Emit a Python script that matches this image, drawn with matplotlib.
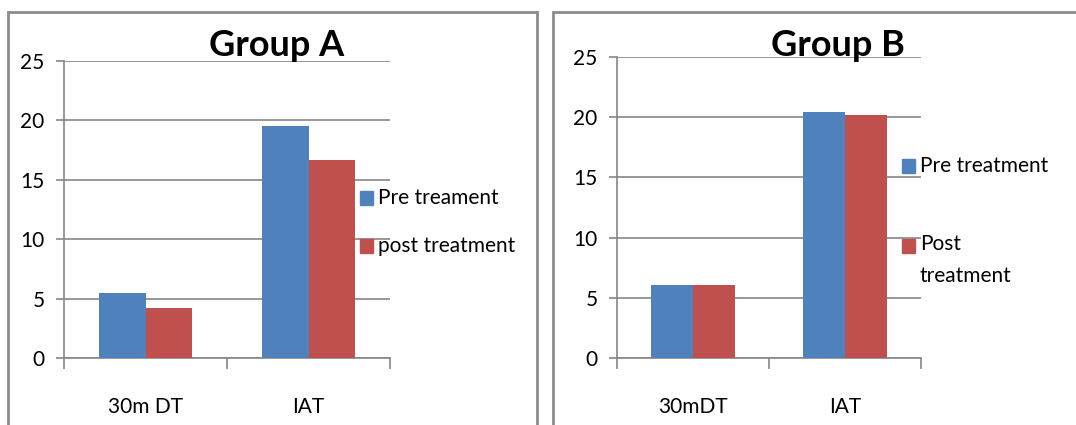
import matplotlib
matplotlib.use("Agg")
import matplotlib.pyplot as plt
from matplotlib.patches import Rectangle
import numpy as np

plt.rcParams['font.family'] = ['Lato', 'DejaVu Sans']

# Data
cats_a = ["30m DT", "IAT"]
pre_a = [5.5, 19.5]
post_a = [4.2, 16.7]
legend_a = ["Pre treament", "post treatment"]

cats_b = ["30mDT", "IAT"]
pre_b = [6.1, 20.4]
post_b = [6.1, 20.2]
legend_b = ["Pre treatment", "Post\ntreatment"]

yticks = [0, 5, 10, 15, 20, 25]
blue = "#4F81BD"
red = "#C0504D"
grid_c = "#868686"

W, H = 1076, 425
fig = plt.figure(figsize=(W / 100, H / 100), dpi=100)

def fx(px):
    return px / W

def fy(py):
    return 1 - py / H

# panel frames
fig.patches.append(Rectangle((fx(8), fy(440)), fx(537 - 8), fy(12) - fy(440),
                             transform=fig.transFigure, fill=False,
                             edgecolor="#8c8c8c", linewidth=2))
fig.patches.append(Rectangle((fx(553), fy(440)), fx(1090 - 553), fy(12) - fy(440),
                             transform=fig.transFigure, fill=False,
                             edgecolor="#8c8c8c", linewidth=2))

def panel(rect, cats, pre, post, title, title_x, title_y, group_w):
    ax = fig.add_axes(rect)
    x = np.arange(len(cats)) + 0.5
    bw = group_w / 2
    ax.bar(x - bw / 2, pre, bw, color=blue, zorder=3)
    ax.bar(x + bw / 2, post, bw, color=red, zorder=3)
    ax.set_xlim(0, len(cats))
    ax.set_ylim(0, 25)
    ax.set_yticks(yticks)
    ax.set_yticklabels([str(t) for t in yticks], fontsize=15)
    ax.yaxis.grid(True, color=grid_c, linewidth=1.2, zorder=0)
    ax.set_axisbelow(True)
    ax.set_xticks(np.arange(len(cats) + 1))
    ax.set_xticklabels([])
    ax.set_xticks(x, minor=True)
    ax.set_xticklabels(cats, minor=True, fontsize=15)
    ax.tick_params(axis='x', which='minor', length=0, pad=28)
    ax.tick_params(axis='x', which='major', length=8, color=grid_c, width=1.2)
    ax.tick_params(axis='y', length=6, color=grid_c, width=1.2, pad=8)
    for s in ["top", "right"]:
        ax.spines[s].set_visible(False)
    for s in ["left", "bottom"]:
        ax.spines[s].set_color(grid_c)
        ax.spines[s].set_linewidth(1.2)
    fig.text(fx(title_x), fy(title_y), title, fontsize=26, fontweight='bold',
             ha='center', va='center')
    return ax

panel([fx(64), fy(358), fx(390 - 64), fy(61) - fy(358)], cats_a, pre_a, post_a,
      "Group A", 277, 46, 0.57)
panel([fx(617), fy(358), fx(921 - 617), fy(57) - fy(358)], cats_b, pre_b, post_b,
      "Group B", 838, 46, 0.55)

def legend(x0, ys, labels, colors):
    for y, lab, c in zip(ys, labels, colors):
        fig.patches.append(Rectangle((fx(x0), fy(y + 7)), fx(13), fy(y - 7) - fy(y + 7),
                                     transform=fig.transFigure, color=c))
        fig.text(fx(x0 + 18), fy(y), lab, fontsize=15, ha='left',
                 va='top' if '\n' in lab else 'center', linespacing=1.75)

legend(360, [198, 246], legend_a, [blue, red])
legend(902, [166, 246], legend_b, [blue, red])
# align the multi-line label's first line with its handle
fig.texts[-1].set_position((fx(920), fy(234)))

fig.savefig("out.png", dpi=100)
